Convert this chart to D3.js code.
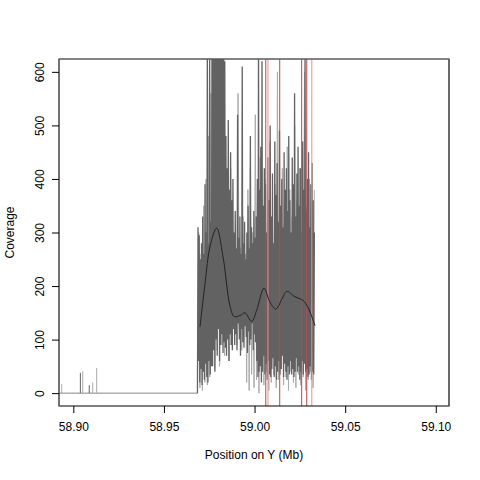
<!DOCTYPE html>
<html>
<head>
<meta charset="utf-8">
<script src="https://cdn.jsdelivr.net/npm/d3@7"></script>
<style>
body { margin: 0; background: #fff; }
text { font-family: "Liberation Sans", Arial, sans-serif; font-size: 12px; fill: #000; }
</style>
</head>
<body>
<div id="chart"></div>
<script>
// Coverage along chromosome Y

var xTicks = [58.90, 58.95, 59.00, 59.05, 59.10];
var yTicks = [0, 100, 200, 300, 400, 500, 600];

// flat zero stretch on the left and the few small spikes in it
var baseStart = 58.8921, baseEnd = 58.9685;
var spikePos = [58.8936, 58.9039, 58.9052, 58.9088, 58.9107, 58.9129];
var spikeVal = [17, 38, 41, 15, 20, 47];
var spikeLight = [1, 0, 1, 0, 1, 1];

// dense coverage, sampled evenly between covStart and covEnd
var covStart = 58.9685, covEnd = 59.0330;
var covDark = [0, 310, 60, 295, 20, 250, 45, 280, 15,
    330, 40, 260, 25, 390, 55, 300, 30, 660, 20, 280, 60, 640, 35, 320, 50, 700,
    50, 720, 80, 650, 40, 800, 100, 690, 70, 760, 120, 640, 60, 710, 90, 680, 110, 650, 75, 700, 95, 620, 85,
    480, 70, 420, 100, 510, 60, 380, 110, 450, 90, 360, 80, 400, 120,
    300, 90, 340, 110, 270, 80, 520, 130, 290, 100, 330, 70, 260, 120, 610, 95, 280, 85, 320, 125,
    250, 105, 300, 75, 350, 115, 270, 90, 480, 100, 310, 130, 280, 80, 340, 110, 290, 95, 330,
    60, 400, 30, 650, 40, 380, 50, 460, 20, 620, 40, 350, 70, 420, 35, 390, 55, 300, 25, 440,
    60, 360, 35, 500, 30, 330, 45, 410, 65, 280, 30, 470, 50, 370, 25, 430, 40, 320, 60, 490,
    35, 350, 45, 400, 70, 310, 30, 450, 55, 380, 40, 420, 25, 340, 50, 480, 35, 360, 60, 300,
    35, 440, 45, 390, 30, 560, 40, 330, 65, 410, 40, 460, 50, 350, 25, 420, 40, 300, 60, 470,
    35, 380, 55, 640, 40, 340, 45, 400, 30, 450, 35, 310, 50, 390, 25, 430, 40, 360, 35, 300];
var covLight = [40, 300, 10, 260, 5, 350, 20, 400, 15, 480, 30, 560, 60, 600, 45, 520, 80, 640,
    50, 450, 90, 380, 70, 300, 110, 250, 60, 420, 100, 290, 130, 240, 90, 560, 120, 270, 80, 330,
    140, 260, 20, 380, 5, 420, 35, 300, 10, 520, 25, 360, 0, 440, 30, 280, 15, 400, 40, 340, 5,
    470, 20, 310, 35, 390, 10, 600, 25, 350, 45, 420, 15, 300, 30, 460, 5, 380, 40, 330, 20, 500,
    10, 360, 35, 420, 15, 280, 30, 600, 5, 350, 25, 400, 40, 320, 10, 380];

// smoothed coverage
var smoothPos = [58.9699, 58.9727, 58.9755, 58.9791, 58.9826, 58.9865, 58.9888, 58.9920, 58.9947,
    58.9984, 59.0012, 59.0052, 59.0085, 59.0118, 59.0150, 59.0178, 59.0223, 59.0268, 59.0295, 59.0334];
var smoothVal = [124, 205, 275, 308, 255, 162, 143, 145, 150, 134, 155, 196, 170, 157, 175, 190, 180, 173, 160, 126];

// marked positions
var markDark = [59.0062, 59.0139, 59.0260, 59.0288];
var markLight = [59.0074, 59.0316];

var WIDTH = 480, HEIGHT = 480;
var LEFT = 59, RIGHT = 449, TOP = 59, BOTTOM = 406;

var x = d3.scaleLinear().domain([58.8921, 59.1073]).range([LEFT, RIGHT]);
var y = d3.scaleLinear().domain([-24, 624]).range([BOTTOM, TOP]);

var svg = d3.select("#chart").append("svg")
    .attr("width", WIDTH)
    .attr("height", HEIGHT);

svg.append("clipPath").attr("id", "plot")
    .append("rect")
    .attr("x", LEFT).attr("y", TOP)
    .attr("width", RIGHT - LEFT).attr("height", BOTTOM - TOP);

var g = svg.append("g").attr("clip-path", "url(#plot)");

// zero baseline and spikes
g.append("line")
    .attr("x1", x(baseStart)).attr("x2", x(baseEnd))
    .attr("y1", y(0)).attr("y2", y(0))
    .attr("stroke", "#888").attr("stroke-width", 1);

g.selectAll(".spike")
    .data(spikePos)
    .enter()
    .append("line")
    .attr("class", "spike")
    .attr("x1", function(d) { return x(d); })
    .attr("x2", function(d) { return x(d); })
    .attr("y1", y(0))
    .attr("y2", function(d, i) { return y(spikeVal[i]); })
    .attr("stroke", function(d, i) { return spikeLight[i] ? "#aaa" : "#666"; })
    .attr("stroke-width", 1);

function series(vals) {
    var step = (covEnd - covStart) / (vals.length - 1);
    return vals.map(function(v, i) { return [covStart + i * step, v]; });
}

var line = d3.line()
    .x(function(d) { return x(d[0]); })
    .y(function(d) { return y(d[1]); });

g.append("path")
    .attr("d", line(series(covLight)))
    .attr("fill", "none")
    .attr("stroke", "#ababab")
    .attr("stroke-width", 1);

g.append("path")
    .attr("d", line(series(covDark)))
    .attr("fill", "none")
    .attr("stroke", "#626262")
    .attr("stroke-width", 1.3);

// marker lines
g.selectAll(".mdark")
    .data(markDark)
    .enter()
    .append("line")
    .attr("x1", function(d) { return x(d); })
    .attr("x2", function(d) { return x(d); })
    .attr("y1", TOP).attr("y2", BOTTOM)
    .attr("stroke", "#b84a4a").attr("stroke-width", 1);

g.selectAll(".mlight")
    .data(markLight)
    .enter()
    .append("line")
    .attr("x1", function(d) { return x(d); })
    .attr("x2", function(d) { return x(d); })
    .attr("y1", TOP).attr("y2", BOTTOM)
    .attr("stroke", "#e39595").attr("stroke-width", 1);

var smooth = smoothPos.map(function(p, i) { return [p, smoothVal[i]]; });
g.append("path")
    .attr("d", line.curve(d3.curveCatmullRom)(smooth))
    .attr("fill", "none")
    .attr("stroke", "#222")
    .attr("stroke-width", 1);

// frame
svg.append("rect")
    .attr("x", LEFT).attr("y", TOP)
    .attr("width", RIGHT - LEFT).attr("height", BOTTOM - TOP)
    .attr("fill", "none")
    .attr("stroke", "#000").attr("stroke-width", 1);
svg.append("line")
    .attr("x1", LEFT).attr("x2", RIGHT).attr("y1", TOP).attr("y2", TOP)
    .attr("stroke", "#888");
svg.append("line")
    .attr("x1", LEFT).attr("x2", LEFT).attr("y1", TOP).attr("y2", BOTTOM)
    .attr("stroke", "#666");
svg.append("line")
    .attr("x1", RIGHT).attr("x2", RIGHT).attr("y1", TOP).attr("y2", BOTTOM)
    .attr("stroke", "#555");

// axes
var xAxis = d3.axisBottom(x)
    .tickValues(xTicks)
    .tickSize(7)
    .tickPadding(9)
    .tickFormat(d3.format(".2f"));
var gx = svg.append("g")
    .attr("transform", "translate(0," + BOTTOM + ")")
    .call(xAxis);
gx.select(".domain").remove();
gx.selectAll("line").attr("stroke", "#000");
gx.selectAll("text")
    .attr("font-family", "Liberation Sans, Arial, sans-serif")
    .attr("font-size", 12)
    .attr("fill", "#000");

var yAxis = d3.axisLeft(y)
    .tickValues(yTicks)
    .tickSize(7);
var gy = svg.append("g")
    .attr("transform", "translate(" + LEFT + ",0)")
    .call(yAxis);
gy.select(".domain").remove();
gy.selectAll("line").attr("stroke", "#000");
gy.selectAll("text")
    .attr("font-family", "Liberation Sans, Arial, sans-serif")
    .attr("font-size", 12)
    .attr("fill", "#000")
    .attr("x", null)
    .attr("dy", null)
    .attr("text-anchor", "middle")
    .attr("transform", "translate(-15.5,0) rotate(-90)");

svg.append("text")
    .attr("x", (LEFT + RIGHT) / 2)
    .attr("y", 459)
    .attr("text-anchor", "middle")
    .text("Position on Y (Mb)");

svg.append("text")
    .attr("transform", "translate(14," + (TOP + BOTTOM) / 2 + ") rotate(-90)")
    .attr("text-anchor", "middle")
    .text("Coverage");
</script>
</body>
</html>
